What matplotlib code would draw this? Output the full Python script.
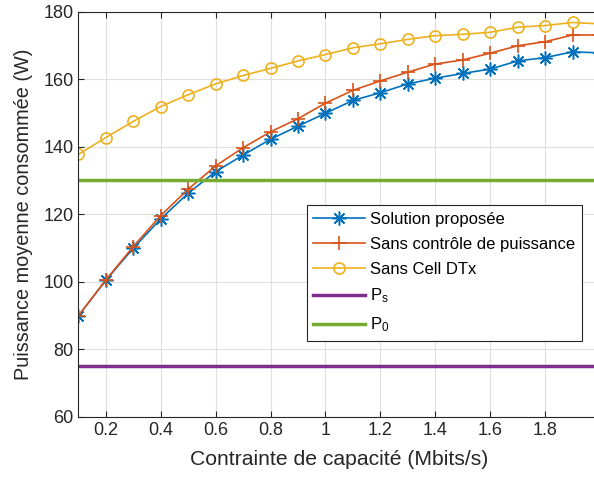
import numpy as np
import matplotlib.pyplot as plt

# capacity constraint (Mbits/s)
x = [0.1, 0.2, 0.3, 0.4, 0.5, 0.6, 0.7, 0.8, 0.9, 1.0,
     1.1, 1.2, 1.3, 1.4, 1.5, 1.6, 1.7, 1.8, 1.9, 2.0]

# average consumed power (W)
p_solution = [89.8, 100.4, 109.9, 118.6, 126.2, 132.6, 137.5, 142.2, 146.1, 149.9,
              153.7, 156.0, 158.6, 160.3, 161.7, 163.0, 165.4, 166.4, 168.1, 167.8]
p_sans_ctrl = [89.9, 100.5, 110.4, 119.6, 127.4, 134.3, 139.7, 144.4, 148.3, 152.9,
               156.7, 159.5, 162.1, 164.5, 165.7, 167.7, 169.9, 171.1, 173.1, 173.1]
p_sans_dtx = [137.7, 142.7, 147.5, 151.9, 155.4, 158.6, 161.1, 163.2, 165.4, 167.3,
              169.3, 170.5, 171.8, 172.9, 173.3, 173.9, 175.4, 175.9, 176.8, 176.4]
p_s = 75
p_0 = 130

labels = ['Solution proposée', 'Sans contrôle de puissance', 'Sans Cell DTx',
          r'$\mathregular{P_s}$', r'$\mathregular{P_0}$']

plt.rcParams['font.family'] = ['Liberation Sans', 'DejaVu Sans']
txt = '#262626'

fig = plt.figure(figsize=(5.94, 4.82), dpi=100)
ax = fig.add_axes([78.3/594, 1-416.7/482, (600-78.3)/594, (416.7-11.7)/482])

# matlab style asterisk: 8 arms
ax.plot(x, p_solution, color='#0072BD', marker=(8, 2, 0), markersize=10, mew=1.1, lw=1.2, label=labels[0])
ax.plot(x, p_sans_ctrl, color='#D95319', marker='+', markersize=10, mew=1.2, lw=1.2, label=labels[1])
ax.plot(x, p_sans_dtx, color='#EDB120', marker='o', markersize=8, mfc='none', mew=1.2, lw=1.2, label=labels[2])
ax.axhline(p_s, color='#7E2F8E', lw=2.5, label=labels[3])
ax.axhline(p_0, color='#77AC30', lw=2.5, label=labels[4])

ax.set_xlim(0.1, 2.0)
ax.set_ylim(60, 180)
ax.set_xticks(np.arange(0.2, 1.81, 0.2))
ax.set_xticklabels(['0.2', '0.4', '0.6', '0.8', '1', '1.2', '1.4', '1.6', '1.8'])
ax.set_yticks(range(60, 181, 20))
ax.tick_params(direction='in', top=True, right=True, labelsize=13, colors=txt, length=4)
ax.grid(True, color='#dfdfdf', lw=0.8)
ax.set_axisbelow(True)
for s in ax.spines.values():
    s.set_color(txt)
    s.set_linewidth(0.8)

ax.set_xlabel('Contrainte de capacité (Mbits/s)', fontsize=15.2, color=txt, labelpad=8)
ax.set_ylabel('Puissance moyenne consommée (W)', fontsize=14.3, color=txt, labelpad=7)

leg = ax.legend(loc='upper left', bbox_to_anchor=(306.7/594, 1-205/482), bbox_transform=fig.transFigure,
                fontsize=12, fancybox=False, framealpha=1, edgecolor=txt, borderaxespad=0,
                handlelength=3.1, handletextpad=0.3, labelspacing=0.6, borderpad=0.4)
leg.get_frame().set_linewidth(0.8)
for t in leg.get_texts():
    t.set_color('black')

fig.savefig('out.png', dpi=100)
